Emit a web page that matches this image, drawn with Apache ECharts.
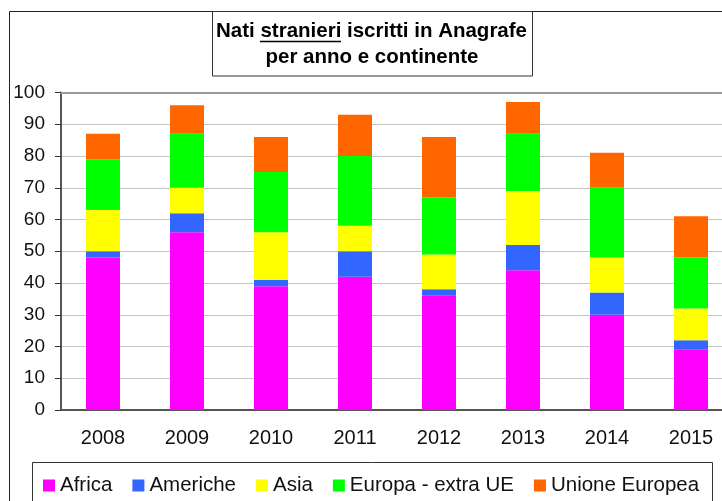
<!DOCTYPE html>
<html>
<head>
<meta charset="utf-8">
<title>Nati stranieri iscritti in Anagrafe</title>
<script src="https://cdn.jsdelivr.net/npm/echarts@6/dist/echarts.min.js"></script>
<style>
    html, body { margin: 0; padding: 0; background: #fff; overflow: hidden; }
    /* wider than the window: the plot runs past the right edge, like the original */
    #chart { width: 740px; height: 501px; }
</style>
</head>
<body>
<div id="chart"></div>
<script>
let years = ['2008', '2009', '2010', '2011', '2012', '2013', '2014', '2015']
let africa = [48, 56, 39, 42, 36, 44, 30, 19]
let americhe = [2, 6, 2, 8, 2, 8, 7, 3]
let asia = [13, 8, 15, 8, 11, 17, 11, 10]
let europaExtraUE = [16, 17, 19, 22, 18, 18, 22, 16]
let unioneEuropea = [8, 9, 11, 13, 19, 10, 11, 13]
let yTicks = { min: 0, max: 100, interval: 10 }

{
    let font = '"Liberation Sans", Arial, sans-serif'
    let view = document.getElementById('chart')
    let controller = {
        bar(name, data, color) {
            return {
                name: name,
                type: 'bar',
                stack: 'tot',
                barWidth: 34,
                itemStyle: { color: color },
                data: data
            }
        },
        init(view) {
            let myChart = echarts.init(view)
            let option = {
                animation: false,
                textStyle: { fontFamily: font },
                grid: { left: 61, top: 92.5, width: 672, height: 317.5 },
                graphic: [
                    // outer frame
                    { type: 'rect', z: 0, shape: { x: 9.5, y: 11.5, width: 800, height: 600 },
                      style: { fill: 'none', stroke: '#222', lineWidth: 1 } },
                    // title box
                    { type: 'rect', z: 1, shape: { x: 212.5, y: 11.5, width: 320, height: 64.5 },
                      style: { fill: '#fff', stroke: '#333', lineWidth: 1 } },
                    { type: 'text', z: 2, style: { x: 371.5, y: 31.5, text: 'Nati stranieri iscritti in Anagrafe',
                      align: 'center', verticalAlign: 'middle', fill: '#000',
                      font: 'bold 20.5px ' + font } },
                    { type: 'line', z: 2, shape: { x1: 260, y1: 41.5, x2: 341, y2: 41.5 },
                      style: { stroke: '#000', lineWidth: 1.5 } },
                    { type: 'text', z: 2, style: { x: 372, y: 57, text: 'per anno e continente',
                      align: 'center', verticalAlign: 'middle', fill: '#000',
                      font: 'bold 20.5px ' + font } },
                    // legend box
                    { type: 'rect', z: 0, shape: { x: 32.5, y: 462.5, width: 680, height: 60 },
                      style: { fill: 'none', stroke: '#333', lineWidth: 1 } }
                ],
                legend: {
                    left: 43,
                    top: 475,
                    padding: 0,
                    itemGap: 20,
                    itemWidth: 12,
                    itemHeight: 12,
                    icon: 'rect',
                    textStyle: { fontSize: 20.5, color: '#111', fontFamily: font }
                },
                xAxis: [{
                    type: 'category',
                    data: years,
                    axisLine: { lineStyle: { color: '#555', width: 2 } },
                    axisTick: { length: 6, lineStyle: { color: '#333' } },
                    axisLabel: { fontSize: 20, color: '#111', margin: 18 }
                }, {
                    type: 'category',
                    position: 'top',
                    data: years,
                    axisLine: { lineStyle: { color: '#999', width: 2 } },
                    axisTick: { show: false },
                    axisLabel: { show: false }
                }],
                yAxis: {
                    type: 'value',
                    min: yTicks.min,
                    max: yTicks.max,
                    interval: yTicks.interval,
                    axisLine: { show: true, lineStyle: { color: '#555', width: 2 } },
                    axisTick: { show: true, length: 6, lineStyle: { color: '#333' } },
                    axisLabel: { fontSize: 19, color: '#111', margin: 16 },
                    splitLine: { lineStyle: { color: '#c4c4c4', width: 1 } }
                },
                series: [
                    controller.bar('Africa', africa, '#ff00ff'),
                    controller.bar('Americhe', americhe, '#3366ff'),
                    controller.bar('Asia', asia, '#ffff00'),
                    controller.bar('Europa - extra UE', europaExtraUE, '#00ff00'),
                    controller.bar('Unione Europea', unioneEuropea, '#ff6600')
                ]
            }
            myChart.setOption(option)
        }
    }
    controller.init(view)
}
</script>
</body>
</html>
